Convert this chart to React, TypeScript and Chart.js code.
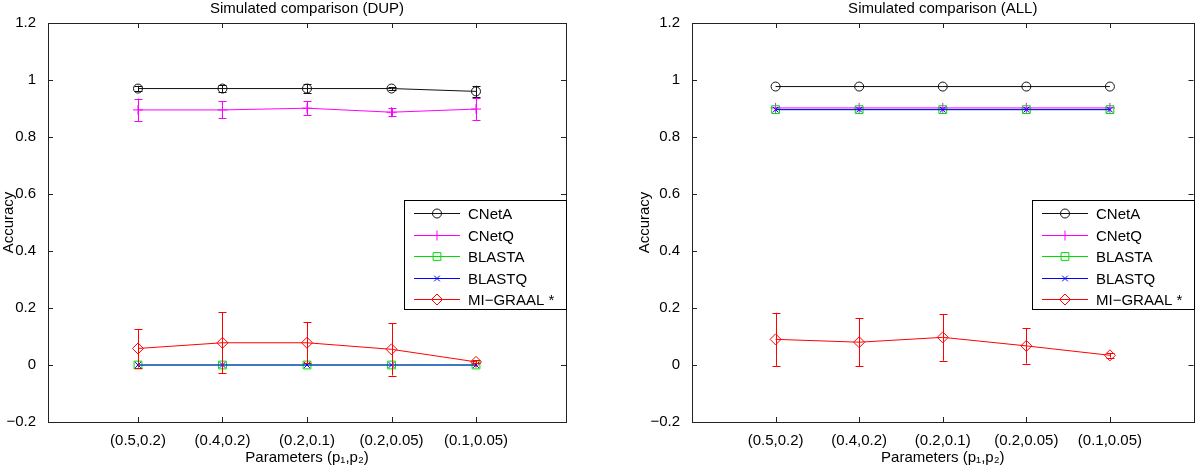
import React, { useEffect, useRef } from 'react';
import { Chart, registerables } from 'chart.js';

Chart.register(...registerables);

// ---------- data ----------
const categories = ['(0.5,0.2)', '(0.4,0.2)', '(0.2,0.1)', '(0.2,0.05)', '(0.1,0.05)'];
const xPositions = [1, 2, 3, 4, 5];
const yTickValues = [-0.2, 0, 0.2, 0.4, 0.6, 0.8, 1, 1.2];
const seriesNames = ['CNetA', 'CNetQ', 'BLASTA', 'BLASTQ', 'MI\u2212GRAAL *'];

// DUP panel
const dupCNetA = [0.97, 0.97, 0.97, 0.97, 0.96];
const dupCNetAErr = [0.01, 0.012, 0.016, 0.005, 0.02];
const dupCNetQ = [0.895, 0.895, 0.901, 0.887, 0.898];
const dupCNetQErr = [0.04, 0.03, 0.025, 0.013, 0.04];
const dupBLASTA = [0, 0, 0, 0, 0];
const dupBLASTAErr = [0, 0, 0, 0, 0];
const dupBLASTQ = [0, 0, 0, 0, 0];
const dupBLASTQErr = [0, 0, 0, 0, 0];
const dupMIGRAAL = [0.058, 0.078, 0.078, 0.055, 0.011];
const dupMIGRAALErr = [0.067, 0.107, 0.072, 0.092, 0.005];

// ALL panel
const allCNetA = [0.977, 0.977, 0.977, 0.977, 0.977];
const allCNetAErr = [0, 0, 0, 0, 0];
const allCNetQ = [0.902, 0.902, 0.902, 0.902, 0.902];
const allCNetQErr = [0, 0, 0, 0, 0];
const allBLASTA = [0.896, 0.896, 0.896, 0.896, 0.896];
const allBLASTAErr = [0, 0, 0, 0, 0];
const allBLASTQ = [0.896, 0.896, 0.896, 0.896, 0.896];
const allBLASTQErr = [0, 0, 0, 0, 0];
const allMIGRAAL = [0.09, 0.08, 0.097, 0.067, 0.034];
const allMIGRAALErr = [0.093, 0.085, 0.082, 0.062, 0.008];

// ---------- styles ----------
const seriesColors = ['#111111', '#ff00ff', '#00dd00', '#0000ff', '#ff0000'];
const seriesMarkers = ['circle', 'cross', 'rect', 'crossRot', 'rectRot'];
const markerRadius = [4.5, 5, 5.5, 4, 5.5];
const FONT = "'Liberation Sans', Arial, sans-serif";
const FONT_SIZE = 15;

function fmtTick(v: number): string {
  return v < 0 ? '\u2212' + String(Math.abs(v)) : String(v);
}

function drawMarker(ctx: CanvasRenderingContext2D, style: string, x: number, y: number, r: number) {
  ctx.beginPath();
  if (style === 'circle') {
    ctx.arc(x, y, r, 0, Math.PI * 2);
  } else if (style === 'cross') {
    ctx.moveTo(x - r, y); ctx.lineTo(x + r, y);
    ctx.moveTo(x, y - r); ctx.lineTo(x, y + r);
  } else if (style === 'rect') {
    const s = r * Math.SQRT1_2;
    ctx.rect(x - s, y - s, 2 * s, 2 * s);
  } else if (style === 'crossRot') {
    const s = r * Math.SQRT1_2;
    ctx.moveTo(x - s, y - s); ctx.lineTo(x + s, y + s);
    ctx.moveTo(x - s, y + s); ctx.lineTo(x + s, y - s);
  } else if (style === 'rectRot') {
    ctx.moveTo(x, y - r); ctx.lineTo(x + r, y); ctx.lineTo(x, y + r); ctx.lineTo(x - r, y); ctx.closePath();
  }
  ctx.stroke();
}

const boxPlugin = {
  id: 'matlabBox',
  afterDatasetsDraw(chart: any) {
    const { ctx, chartArea } = chart;
    const { left, right, top, bottom } = chartArea;
    const xs = chart.scales.x;
    const ys = chart.scales.y;
    ctx.save();
    ctx.strokeStyle = '#222';
    ctx.lineWidth = 1;
    ctx.strokeRect(Math.round(left) + 0.5, Math.round(top) + 0.5, Math.round(right - left), Math.round(bottom - top));
    const tl = 5;
    ctx.beginPath();
    xPositions.forEach((v) => {
      const px = Math.round(xs.getPixelForValue(v)) + 0.5;
      ctx.moveTo(px, bottom); ctx.lineTo(px, bottom - tl);
      ctx.moveTo(px, top); ctx.lineTo(px, top + tl);
    });
    yTickValues.forEach((v) => {
      const py = Math.round(ys.getPixelForValue(v)) + 0.5;
      ctx.moveTo(left, py); ctx.lineTo(left + tl, py);
      ctx.moveTo(right, py); ctx.lineTo(right - tl, py);
    });
    ctx.stroke();
    ctx.restore();
  },
};

const errorBarPlugin = {
  id: 'errorBars',
  afterDatasetsDraw(chart: any) {
    const { ctx } = chart;
    const xs = chart.scales.x;
    const ys = chart.scales.y;
    ctx.save();
    ctx.lineWidth = 1;
    chart.data.datasets.forEach((ds: any) => {
      const errs: number[] = ds.errors || [];
      ctx.strokeStyle = ds.borderColor;
      ds.data.forEach((p: any, i: number) => {
        const e = errs[i] || 0;
        if (e <= 0) return;
        const px = Math.round(xs.getPixelForValue(p.x)) + 0.5;
        const y1 = ys.getPixelForValue(p.y + e);
        const y2 = ys.getPixelForValue(p.y - e);
        const cw = 4;
        ctx.beginPath();
        ctx.moveTo(px, y1); ctx.lineTo(px, y2);
        ctx.moveTo(px - cw, Math.round(y1) + 0.5); ctx.lineTo(px + cw, Math.round(y1) + 0.5);
        ctx.moveTo(px - cw, Math.round(y2) + 0.5); ctx.lineTo(px + cw, Math.round(y2) + 0.5);
        ctx.stroke();
      });
    });
    ctx.restore();
  },
};

const legendPlugin = {
  id: 'insideLegend',
  afterDraw(chart: any) {
    const { ctx, chartArea } = chart;
    ctx.save();
    ctx.font = `${FONT_SIZE}px ${FONT}`;
    let maxW = 0;
    seriesNames.forEach((n) => { maxW = Math.max(maxW, ctx.measureText(n).width); });
    const boxW = Math.round(64 + maxW + 12);
    const rowH = 21.5;
    const boxH = Math.round(rowH * 5 + 1);
    const bx = Math.round(chartArea.right) - boxW;
    const by = Math.round(chartArea.top) + 177;
    ctx.fillStyle = '#ffffff';
    ctx.fillRect(bx, by, boxW, boxH);
    ctx.strokeStyle = '#000';
    ctx.lineWidth = 1;
    ctx.strokeRect(bx + 0.5, by + 0.5, boxW, boxH);
    seriesNames.forEach((n, i) => {
      const cy = Math.round(by + 13 + i * rowH) + 0.5;
      ctx.strokeStyle = seriesColors[i];
      ctx.lineWidth = 1;
      ctx.beginPath();
      ctx.moveTo(bx + 10, cy); ctx.lineTo(bx + 56, cy);
      ctx.stroke();
      drawMarker(ctx, seriesMarkers[i], bx + 33, cy, markerRadius[i]);
      ctx.fillStyle = '#000';
      ctx.textBaseline = 'middle';
      ctx.textAlign = 'left';
      ctx.fillText(n, bx + 64, cy + 1);
    });
    ctx.restore();
  },
};

function makeConfig(title: string, values: number[][], errors: number[][], padLeft: number, yWidth: number, padRight: number, xMin: number, xMax: number): any {
  const datasets = values.map((vals, i) => ({
    label: seriesNames[i],
    data: vals.map((v, j) => ({ x: xPositions[j], y: v })),
    errors: errors[i],
    borderColor: seriesColors[i],
    backgroundColor: seriesColors[i],
    borderWidth: 1,
    pointStyle: seriesMarkers[i],
    pointRadius: markerRadius[i],
    pointBorderColor: seriesColors[i],
    pointBackgroundColor: 'rgba(0,0,0,0)',
    pointBorderWidth: 1,
    tension: 0,
    fill: false,
    order: 5 - i,
  }));
  return {
    type: 'line',
    data: { datasets },
    options: {
      animation: false,
      responsive: false,
      devicePixelRatio: 1,
      layout: { padding: { left: padLeft, right: padRight, top: 0, bottom: 0 } },
      plugins: {
        legend: { display: false },
        tooltip: { enabled: false },
        title: {
          display: true,
          text: title,
          fullSize: false,
          color: '#000',
          font: { family: FONT, size: FONT_SIZE, weight: 'normal' },
          padding: { top: 0, bottom: 5 },
        },
      },
      scales: {
        x: {
          type: 'linear',
          min: xMin,
          max: xMax,
          afterBuildTicks: (s: any) => { s.ticks = xPositions.map((v) => ({ value: v })); },
          afterFit: (s: any) => { s.height = 45; },
          grid: { display: false },
          border: { display: false },
          ticks: {
            autoSkip: false,
            maxRotation: 0,
            color: '#000',
            padding: 2,
            font: { family: FONT, size: FONT_SIZE },
            callback: (v: number) => { const k = xPositions.indexOf(v); return k >= 0 ? categories[k] : ''; },
          },
          title: {
            display: true,
            text: 'Parameters (p\u2081,p\u2082)',
            color: '#000',
            font: { family: FONT, size: FONT_SIZE },
            padding: { top: 0, bottom: 0 },
          },
        },
        y: {
          type: 'linear',
          min: -0.2,
          max: 1.2,
          afterBuildTicks: (s: any) => { s.ticks = yTickValues.map((v) => ({ value: v })); },
          afterFit: (s: any) => { s.width = yWidth; },
          grid: { display: false },
          border: { display: false },
          ticks: {
            color: '#000',
            padding: 4,
            font: { family: FONT, size: FONT_SIZE },
            callback: (v: number) => fmtTick(v),
          },
          title: {
            display: true,
            text: 'Accuracy',
            color: '#000',
            font: { family: FONT, size: FONT_SIZE },
            padding: { top: 0, bottom: 0 },
          },
        },
      },
    },
    plugins: [boxPlugin, errorBarPlugin, legendPlugin],
  };
}

function Panel(props: { config: any; left: number }) {
  const ref = useRef<HTMLCanvasElement | null>(null);
  useEffect(() => {
    if (!ref.current) return;
    const chart = new Chart(ref.current, props.config);
    return () => chart.destroy();
  }, []);
  return (
    <div style={{ position: 'absolute', left: props.left, top: 0, width: 600, height: 467 }}>
      <canvas ref={ref} width={600} height={467} style={{ display: 'block', width: 600, height: 467 }} />
    </div>
  );
}

export default function App() {
  const dupConfig = makeConfig(
    'Simulated comparison (DUP)',
    [dupCNetA, dupCNetQ, dupBLASTA, dupBLASTQ, dupMIGRAAL],
    [dupCNetAErr, dupCNetQErr, dupBLASTAErr, dupBLASTQErr, dupMIGRAALErr],
    0, 48, 34, -0.065, 6.065
  );
  const allConfig = makeConfig(
    'Simulated comparison (ALL)',
    [allCNetA, allCNetQ, allBLASTA, allBLASTQ, allMIGRAAL],
    [allCNetAErr, allCNetQErr, allBLASTAErr, allBLASTQErr, allMIGRAALErr],
    36, 56, 1, 0, 6
  );
  return (
    <div style={{ position: 'fixed', left: 0, top: 0, width: 1200, height: 467, background: '#ffffff', overflow: 'hidden' }}>
      <Panel config={dupConfig} left={0} />
      <Panel config={allConfig} left={600} />
    </div>
  );
}
